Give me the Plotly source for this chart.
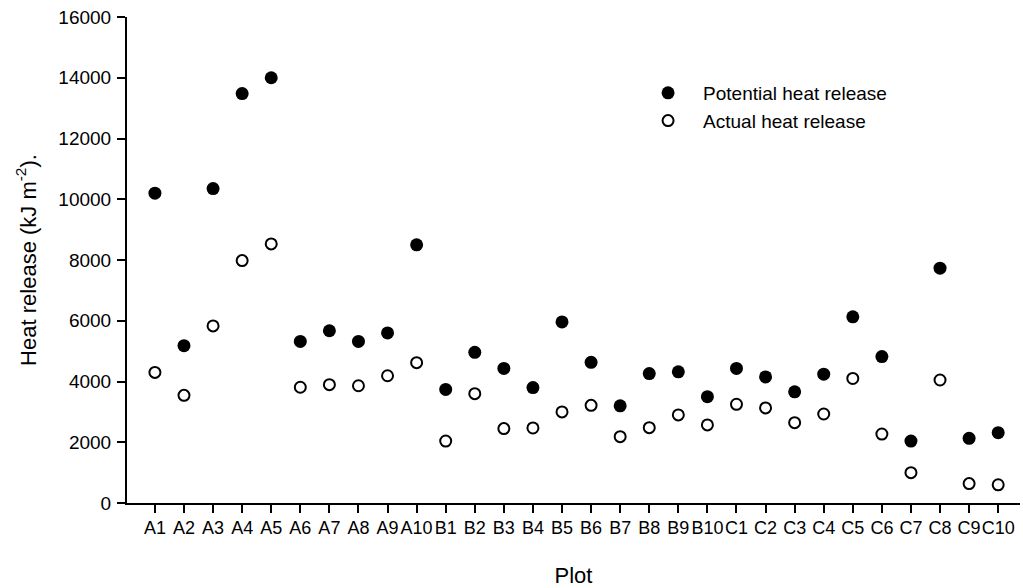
import plotly.graph_objects as go

plots = ["A1", "A2", "A3", "A4", "A5", "A6", "A7", "A8", "A9", "A10",
         "B1", "B2", "B3", "B4", "B5", "B6", "B7", "B8", "B9", "B10",
         "C1", "C2", "C3", "C4", "C5", "C6", "C7", "C8", "C9", "C10"]

potential = [10200, 5180, 10350, 13480, 14000, 5320, 5670, 5320, 5600, 8500,
             3740, 4960, 4430, 3800, 5960, 4630, 3200, 4260, 4320, 3500,
             4430, 4150, 3660, 4240, 6130, 4820, 2040, 7730, 2130, 2315]

actual = [4300, 3545, 5830, 7980, 8530, 3810, 3895, 3860, 4190, 4620,
          2040, 3600, 2450, 2470, 3000, 3215, 2185, 2480, 2900, 2570,
          3250, 3130, 2645, 2930, 4100, 2270, 1000, 4050, 640, 600]

y_ticks = [0, 2000, 4000, 6000, 8000, 10000, 12000, 14000, 16000]

FONT = "Liberation Sans, Arial, Helvetica, sans-serif"

fig = go.Figure()
fig.add_trace(go.Scatter(
    x=plots, y=potential, mode="markers", name="Potential heat release",
    marker=dict(symbol="circle", size=13, color="black", line=dict(width=0)),
))
fig.add_trace(go.Scatter(
    x=plots, y=actual, mode="markers", name="Actual heat release",
    marker=dict(symbol="circle", size=11, color="white",
                line=dict(width=2, color="black")),
))

fig.update_layout(
    width=1023, height=588,
    margin=dict(l=127, r=3, t=17, b=85),
    paper_bgcolor="white", plot_bgcolor="white",
    font=dict(family=FONT, size=16, color="black"),
    showlegend=True,
    legend=dict(x=0.5667, y=0.8827, xanchor="left", yanchor="top",
                bgcolor="rgba(0,0,0,0)", font=dict(size=19, color="black"),
                itemwidth=60, tracegroupgap=0),
    xaxis=dict(
        type="category", categoryorder="array", categoryarray=plots,
        range=[-0.96, 29.75],
        showline=True, linecolor="black", linewidth=2,
        ticks="outside", ticklen=8, tickwidth=1.5, tickcolor="black",
        ticklabelstandoff=-1, tickangle=0,
        showgrid=False, zeroline=False,
        tickfont=dict(size=18),
        title=dict(text="Plot", font=dict(size=22), standoff=31),
    ),
    yaxis=dict(
        range=[0, 16000], tickvals=y_ticks,
        ticktext=[str(v) for v in y_ticks],
        showline=True, linecolor="black", linewidth=2,
        ticks="outside", ticklen=8, tickwidth=1.5, tickcolor="black",
        ticklabelstandoff=2,
        showgrid=False, zeroline=False,
        tickfont=dict(size=19),
        title=dict(text="Heat release (kJ m<sup>-2</sup>).", font=dict(size=22),
                   standoff=16),
    ),
)

fig.write_html("out.html", config={"displayModeBar": False},
               post_script="document.body.style.margin='0';")
